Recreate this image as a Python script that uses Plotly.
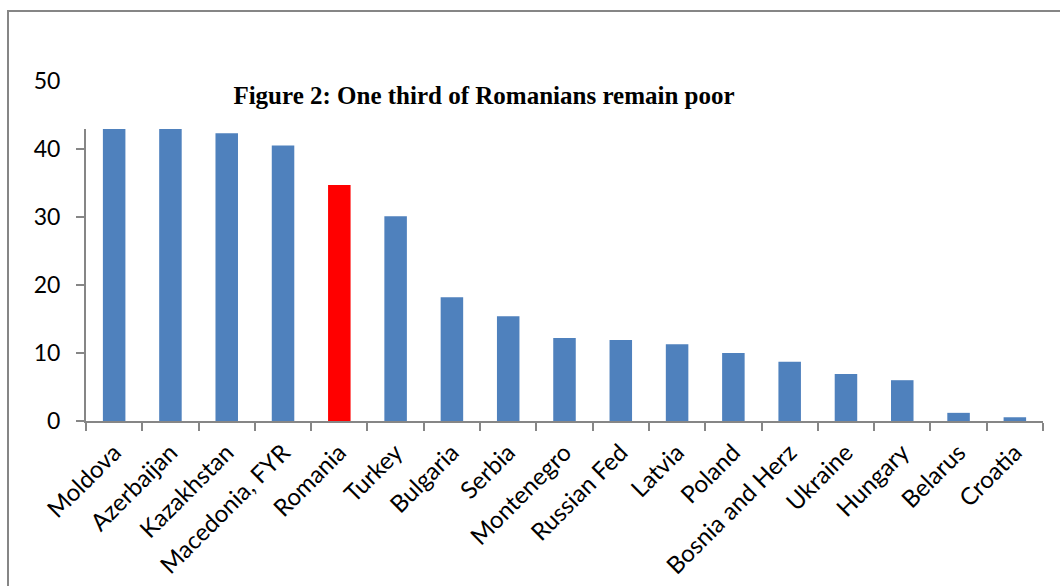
import plotly.graph_objects as go

# Share of population in poverty, by country
countries = ["Moldova", "Azerbaijan", "Kazakhstan", "Macedonia, FYR", "Romania",
             "Turkey", "Bulgaria", "Serbia", "Montenegro", "Russian Fed", "Latvia",
             "Poland", "Bosnia and Herz", "Ukraine", "Hungary", "Belarus", "Croatia"]
poverty_rate = [43.0, 43.0, 42.3, 40.5, 34.7, 30.1, 18.2, 15.4, 12.2, 11.9, 11.3,
                10.0, 8.7, 6.9, 6.0, 1.2, 0.55]
highlight = "Romania"

y_labels = [0, 10, 20, 30, 40, 50]   # labelled values
y_marks = [0, 10, 20, 30, 40]        # tick marks on the visible part of the axis

BLUE = "#4F81BD"
RED = "#FF0000"
AXIS = "#868686"

bar_colors = [RED if c == highlight else BLUE for c in countries]

fig = go.Figure(
    go.Bar(
        x=countries,
        y=poverty_rate,
        marker=dict(color=bar_colors, line=dict(width=0)),
        width=0.4,
    )
)

fig.update_layout(
    width=1060,
    height=586,
    margin=dict(l=86, r=17, t=81, b=165),
    paper_bgcolor="white",
    plot_bgcolor="white",
    showlegend=False,
    title=dict(
        text="<b>Figure 2: One third of Romanians remain poor</b>",
        font=dict(family="Liberation Serif", size=25, color="black"),
        x=484 / 1060,
        xanchor="center",
        y=1 - 95 / 586,
        yanchor="middle",
    ),
    xaxis=dict(
        type="category",
        automargin=False,
        tickangle=-45,
        showline=True,
        linecolor=AXIS,
        linewidth=2,
        ticks="outside",
        tickson="boundaries",
        ticklen=8,
        tickcolor=AXIS,
        tickwidth=2,
        showgrid=False,
        tickfont=dict(family="Lato", size=24, color="black"),
        ticklabelstandoff=6,
    ),
    yaxis=dict(
        automargin=False,
        range=[0, 50],
        tickvals=y_labels,
        ticktext=[str(v) for v in y_labels],
        ticks="",
        minor=dict(tickvals=y_marks, ticks="outside", ticklen=8,
                   tickcolor=AXIS, tickwidth=2, showgrid=False),
        showline=True,
        linecolor=AXIS,
        linewidth=2,
        showgrid=False,
        zeroline=False,
        tickfont=dict(family="Lato", size=23, color="black"),
        ticklabelstandoff=19,
    ),
    shapes=[
        # plot area stops just below 43; blank out the band above it
        dict(type="rect", xref="paper", yref="y", x0=-0.004, x1=1.02, y0=42.94, y1=51,
             fillcolor="white", line=dict(width=0), layer="above"),
        # outer chart frame
        dict(type="rect", xref="paper", yref="paper", x0=-0.0815, x1=1.2, y0=-0.6, y1=1.2059,
             fillcolor="rgba(0,0,0,0)", line=dict(color=AXIS, width=2), layer="above"),
    ],
)

fig.write_html("out.html")
